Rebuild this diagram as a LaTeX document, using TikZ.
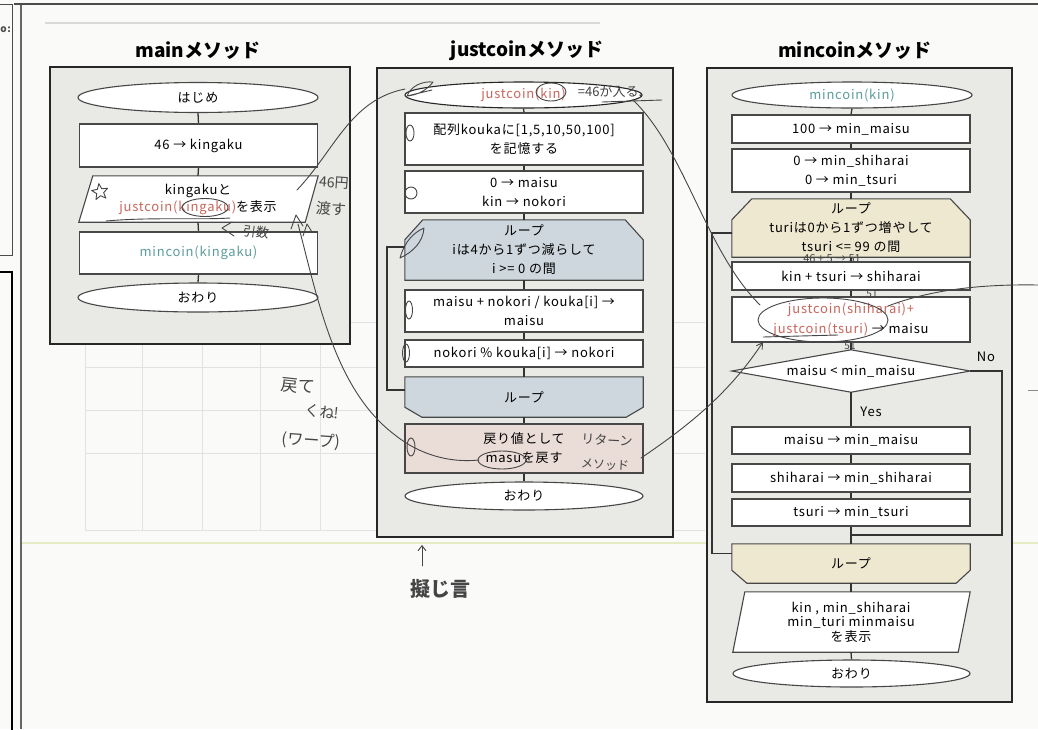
\documentclass[tikz,border=0pt]{standalone}
\usepackage{fontspec}
\setmainfont{Noto Sans CJK JP}[LetterSpace=6]
\newfontfamily\titlef{Noto Sans CJK JP}
\newfontfamily\handf{Noto Sans CJK JP}
\usetikzlibrary{shapes.geometric,arrows.meta,calc}
\pgfdeclarelayer{back}
\pgfdeclarelayer{mid}
\pgfsetlayers{back,mid,main}
\definecolor{pagebg}{HTML}{FAFAF9}
\definecolor{framefill}{HTML}{E9E9E6}
\definecolor{loopj}{HTML}{CDD7DD}
\definecolor{loopc}{HTML}{EEE8D0}
\definecolor{retfill}{HTML}{EADCD6}
\definecolor{jred}{HTML}{C8665C}
\definecolor{jteal}{HTML}{5E9C9C}
\definecolor{hand}{HTML}{454545}
\definecolor{faint}{HTML}{E2E2E2}
\definecolor{yline}{HTML}{E6EBC4}
\newcommand\boxfont{\fontsize{13}{19}\selectfont}
\tikzset{
  frame/.style={draw=black!85, line width=1.6pt, fill=framefill},
  boxline/.style={draw=black!72, line width=1.1pt},
  proc/.style={boxline, fill=white, minimum width=238pt, align=center, inner sep=0pt, font=\boxfont},
  term/.style={ellipse, boxline, fill=white, minimum width=240pt, inner sep=0pt, font=\boxfont},
  txt/.style={align=center, inner sep=0pt, minimum width=238pt, font=\boxfont},
  conn/.style={draw=black!80, line width=1.3pt},
  hw/.style={draw=hand, line width=0.9pt, line cap=round, line join=round},
  hwt/.style={text=hand, inner sep=0pt},
  ttl/.style={font=\titlef\bfseries\fontsize{19}{22}\selectfont, inner sep=0pt},
  lbl/.style={font=\boxfont, inner sep=0pt},
}
\begin{document}
\begin{tikzpicture}[x=1pt,y=-1pt]
\useasboundingbox (0,0) rectangle (1038,729);
\begin{pgfonlayer}{back}
\fill[pagebg] (0,0) rectangle (1038,729);
\foreach \yy in {322,367,410,453,530} \draw[faint, line width=1pt] (85,\yy) -- (705,\yy);
\foreach \xx in {85,142,202,260,320} \draw[faint, line width=1pt] (\xx,322) -- (\xx,530);
\draw[yline, line width=1.5pt] (20,543) -- (1038,543);
\draw[black!15, line width=1.5pt] (45,23) -- (600,23);
\draw[black!60, line width=2pt] (20.5,4) -- (20.5,729);
\draw[black!70, line width=2.5pt] (14,4) -- (1038,4);
\draw[black!70, line width=1pt] (-5,4) -| (12,255) -- (-5,255);
\draw[black, line width=2pt] (-5,272) -| (12,735);
\draw[frame] (50,67) rectangle (350,344);
\draw[frame] (377,68) rectangle (673,537);
\draw[frame] (707,68) rectangle (1012,702);
\end{pgfonlayer}
\node[font=\bfseries\fontsize{10}{10}\selectfont, text=black!70, anchor=east, inner sep=0pt] (oc) at (11,30) {o:};

% ---------- main ----------
\node[ttl] (tm) at (198,51) {mainメソッド};
\node[term, minimum height=30pt] (m0) at (198,97.5) {はじめ};
\node[proc, minimum height=43pt] (m1) at (198.5,145.5) {46 → kingaku};
\node[txt, minimum height=46pt, font=\fontsize{13}{17}\selectfont] (m2) at (198,199) {kingakuと\\\textcolor{jred}{justcoin(kingaku)}を表示};
\node[proc, minimum height=42pt] (m3) at (198.5,253) {\textcolor{jteal}{mincoin(kingaku)}};
\node[term, minimum height=29pt] (m4) at (198,297.5) {おわり};

% ---------- justcoin ----------
\node[ttl] (tj) at (527,51) {justcoinメソッド};
\node[term, minimum height=26pt, minimum width=237pt, draw=black!85] (j0) at (523.5,95) {\textcolor{jred}{justcoin(kin)}};
\node[proc, minimum height=52pt] (j1) at (524,139) {配列koukaに[1,5,10,50,100]\\を記憶する};
\node[proc, minimum height=42pt] (j2) at (524,192) {0 → maisu\\kin → nokori};
\node[txt, minimum height=60pt] (j3) at (524,250) {ループ\\iは4から1ずつ減らして\\i >= 0 の間};
\node[proc, minimum height=42pt] (j4) at (524,311) {maisu + nokori / kouka[i] →\\maisu};
\node[proc, minimum height=27pt] (j5) at (524,353.5) {nokori \% kouka[i] → nokori};
\node[txt, minimum height=40pt] (j6) at (524,397) {ループ};
\node[proc, minimum height=49pt, fill=retfill] (j7) at (524,448.5) {戻り値として\\masuを戻す};
\node[term, minimum height=28pt, minimum width=238pt] (j8) at (524,496) {おわり};

% ---------- mincoin ----------
\node[ttl] (tc) at (855,51) {mincoinメソッド};
\node[term, minimum height=26pt] (c0) at (852,95) {\textcolor{jteal}{mincoin(kin)}};
\node[proc, minimum height=28pt] (c1) at (851,129) {100 → min\_maisu};
\node[proc, minimum height=43pt] (c2) at (851,170.5) {0 → min\_shiharai\\0 → min\_tsuri};
\node[txt, minimum height=58pt] (c3) at (851,228) {ループ\\turiは0から1ずつ増やして\\tsuri <= 99 の間};
\node[proc, minimum height=28pt] (c4) at (851,276) {kin + tsuri → shiharai};
\node[proc, minimum height=45pt, font=\fontsize{13}{20}\selectfont] (c5) at (851,319.5) {\textcolor{jred}{justcoin(shiharai)+}\\\textcolor{jred}{justcoin(tsuri)} → maisu};
\node[txt, minimum height=42pt] (c6) at (851,371) {maisu < min\_maisu};
\node[proc, minimum height=27pt] (c7) at (851,440.5) {maisu → min\_maisu};
\node[proc, minimum height=28pt] (c8) at (851,478) {shiharai → min\_shiharai};
\node[proc, minimum height=27pt] (c9) at (851,512.5) {tsuri → min\_tsuri};
\coordinate (cj) at (851,535);
\node[txt, minimum height=39pt] (c10) at (851,563.5) {ループ};
\node[txt, minimum height=60pt, font=\fontsize{13}{14.5}\selectfont] (c11) at (851,622) {kin , min\_shiharai\\min\_turi minmaisu\\を表示};
\node[term, minimum height=27pt, minimum width=237pt] (c12) at (851.5,673.5) {おわり};
\node[lbl] (no) at (986,357) {No};
\node[lbl] (yes) at (871,412) {Yes};
\coordinate (jl) at (387,320);
\coordinate (cl) at (712,400);
\coordinate (cn) at (1002,450);

% ---------- custom shapes ----------
\begin{pgfonlayer}{mid}
\draw[boxline, fill=white] ($(m2.north west)+(14,0)$) -- ($(m2.north east)+(1,0)$) -- ($(m2.south east)+(-12,0)$) -- (m2.south west) -- cycle;
\draw[boxline, fill=loopj] (j3.south west) -- ($(j3.north west)+(0,20)$) -- ($(j3.north west)+(18,0)$) -- ($(j3.north east)+(-18,0)$) -- ($(j3.north east)+(0,20)$) -- (j3.south east) -- cycle;
\draw[boxline, fill=loopj] (j6.north west) -- ($(j6.south west)+(0,-10)$) -- ($(j6.south west)+(17,0)$) -- ($(j6.south east)+(-17,0)$) -- ($(j6.south east)+(0,-10)$) -- (j6.north east) -- cycle;
\draw[boxline, fill=loopc] (c3.south west) -- ($(c3.north west)+(0,21)$) -- ($(c3.north west)+(20,0)$) -- ($(c3.north east)+(-20,0)$) -- ($(c3.north east)+(0,21)$) -- (c3.south east) -- cycle;
\draw[boxline, fill=white] (c6.west) -- (c6.north) -- (c6.east) -- (c6.south) -- cycle;
\draw[boxline, fill=loopc] (c10.north west) -- ($(c10.south west)+(0,-13)$) -- ($(c10.south west)+(15,0)$) -- ($(c10.south east)+(-14,0)$) -- ($(c10.south east)+(0,-13)$) -- (c10.north east) -- cycle;
\draw[boxline, fill=white] ($(c11.north west)+(13,0)$) -- (c11.north east) -- ($(c11.south east)+(-12,0)$) -- ($(c11.south west)+(1,0)$) -- cycle;
% connectors
\draw[conn] (m0.south) -- (m1.north);
\draw[conn] (m1.south) -- (m2.north);
\draw[conn] (m2.south) -- (m3.north);
\draw[conn] (m3.south) -- (m4.north);
\draw[conn] (j0.south) -- (j1.north);
\draw[conn] (j1.south) -- (j2.north);
\draw[conn] (j2.south) -- (j3.north);
\draw[conn] (j3.south) -- (j4.north);
\draw[conn] (j4.south) -- (j5.north);
\draw[conn] (j5.south) -- (j6.north);
\draw[conn] (j6.south) -- (j7.north);
\draw[conn] (j7.south) -- (j8.north);
\draw[conn] ($(j6.west)+(0,-7)$) -| (jl) |- ($(j3.west)+(0,-3)$);
\draw[conn] (c0.south) -- (c1.north);
\draw[conn] (c1.south) -- (c2.north);
\draw[conn] (c2.south) -- (c3.north);
\draw[conn] (c3.south) -- (c4.north);
\draw[conn] (c4.south) -- (c5.north);
\draw[conn] (c5.south) -- (c6.north);
\draw[conn] (c6.south) -- (c7.north);
\draw[conn] (c7.south) -- (c8.north);
\draw[conn] (c8.south) -- (c9.north);
\draw[conn] (c9.south) -- (cj) -- (c10.north);
\draw[conn] (c6.east) -| (cn) |- (cj);
\draw[conn] (c10.south) -- (c11.north);
\draw[conn] (c11.south) -- (c12.north);
\draw[conn] ($(c10.west)+(0,-10)$) -| (cl) |- ($(c3.west)+(0,5)$);
\end{pgfonlayer}

% ---------- handwriting ----------
\node[star, star points=5, star point ratio=2.3, hw, minimum size=17pt, inner sep=0pt, rotate=8] (hs) at (100,192) {};
\draw[hw] (205,207.5) ellipse [x radius=23, y radius=9];
\draw[hw] (106,221) .. controls (150,217) and (200,220) .. (230,218);
\node[hwt, font=\handf\fontsize{14}{14}\selectfont, rotate=-4] (h46) at (334,183) {46円};
\node[hwt, font=\handf\fontsize{15}{15}\selectfont, rotate=-4] (hwt1) at (331,209) {渡す};
\node[hwt, font=\handf\fontsize{13}{13}\selectfont, rotate=-8] (hhk) at (256,232) {引数};
\draw[hw] (232,222) -- (222,228) -- (234,236);
\draw[hw] (297,190) .. controls (335,150) and (350,100) .. (405,89);
\draw[hw] (407,96) .. controls (411,86) and (422,81) .. (433,82) .. controls (427,90) and (418,95) .. (407,96) -- (432,90);
\draw[hw] (298,224) .. controls (318,300) and (335,390) .. (395,435) .. controls (420,455) and (450,463) .. (479,460);
\draw[hw] (291,229) -- (296,215) -- (303,226);
\draw[hw] (303,236) -- (307,224) -- (312,232);
\draw[hw] (502,460) ellipse [x radius=24, y radius=9];
\node[hwt, font=\handf\fontsize{17}{17}\selectfont, rotate=-6] (hmo) at (298,386) {戻て};
\node[hwt, font=\handf\fontsize{15}{15}\selectfont, rotate=-6] (hku) at (322,412) {くね!};
\node[hwt, font=\handf\fontsize{16}{16}\selectfont, rotate=-4] (hwp) at (311,441) {(ワープ)};
\draw[hw] (551,92) ellipse [x radius=15, y radius=9];
\node[hwt, font=\handf\fontsize{13}{13}\selectfont] (h46b) at (610,92) {=46が入る.};
\draw[hw] (602,102) -- (662,100);
\draw[hw] (633,100) .. controls (685,150) and (705,250) .. (760,305);
\draw[hw] (823,320) ellipse [x radius=65, y radius=22];
\draw[hw] (763,337) -- (838,335);
\draw[hw, -{Straight Barb[length=6pt,width=7pt]}] (641,458) .. controls (690,425) and (730,392) .. (763,342);
\draw[hw] (888,306) .. controls (930,290) and (980,284) .. (1038,285);
\node[hwt, font=\handf\fontsize{13}{13}\selectfont, rotate=-3] (hrt) at (607,440) {リターン};
\node[hwt, font=\handf\fontsize{12}{12}\selectfont, rotate=-3] (hme) at (605,465) {メソッド};
\node[hwt, font=\handf\fontsize{11}{11}\selectfont] (hsum) at (832,259) {46 + 5 → 51};
\node[hwt, font=\handf\fontsize{10}{10}\selectfont] (h51a) at (872,294) {51};
\node[hwt, font=\handf\fontsize{10}{10}\selectfont] (h51b) at (850,346) {51};
\draw[hw] (410,133) ellipse [x radius=4, y radius=8];
\draw[hw] (411,193) circle [radius=6];
\draw[hw] (409,310) ellipse [x radius=3.5, y radius=9];
\draw[hw] (406,353) ellipse [x radius=3.5, y radius=9];
\draw[hw] (411,447) ellipse [x radius=4, y radius=9];
\draw[hw] (400,258) .. controls (405,240) and (415,232) .. (424,228) .. controls (423,242) and (413,252) .. (400,258);
\draw[hw, -{Straight Barb[length=5pt,width=8pt]}] (422,566) -- (422,545);
\node[hwt, font=\handf\bfseries\fontsize{20}{20}\selectfont] (hgi) at (440,589) {擬じ言};
\draw[black!45, line width=1pt] (1028,390) -- (1038,390);
\end{tikzpicture}
\end{document}
